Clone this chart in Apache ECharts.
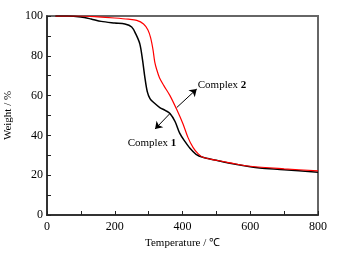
<!DOCTYPE html>
<html>
<head>
<meta charset="utf-8">
<script src="https://cdn.jsdelivr.net/npm/echarts@6/dist/echarts.min.js"></script>
<style>
    html, body { margin: 0; padding: 0; background: #fff; }
    #chart { width: 338px; height: 256px; }
</style>
</head>
<body>
<div id="chart"></div>
<script>
    // TGA curves, [temperature, weight%]
    const complex1 = [[25,100],[60,100],[100,99.5],[130,98.5],[160,97.3],[200,96.5],[230,96],[250,94.5],[262,91],[274,86],[282,78],[289,69],[296,62],[304,58.5],[315,56.5],[333,54],[350,52.5],[363,51],[378,47],[392,41],[407,37],[422,33.5],[440,30.5],[460,29],[500,27.5],[540,26],[600,24.2],[628,23.6],[700,22.8],[800,21.5]]
    const complex2 = [[25,100],[100,100],[150,99.6],[200,99],[240,98.4],[265,97.8],[285,96],[298,93],[306,89],[313,83],[318,77],[324,73],[332,69],[345,65],[363,60],[383,53],[401,46],[416,39],[431,34],[445,31],[460,29],[500,27.5],[540,26.2],[600,24.5],[700,23.2],[800,22.2]]
    const xTicks = [0, 200, 400, 600, 800]
    const yTicks = [0, 20, 40, 60, 80, 100]

    // arrows: [from, to] in data coords
    const arrow1 = [[363, 51], [319, 43.2]]
    const arrow2 = [[383, 54], [442, 63.3]]
    const label1 = [310, 36.2]
    const label2 = [445, 65.3]

    const font = 'Liberation Serif'
    const chart = echarts.init(document.getElementById('chart'))

    const arrowLine = (pts) => ({
        silent: true,
        symbol: ['none', 'arrow'],
        symbolSize: 7,
        label: { show: false },
        lineStyle: { color: '#000', width: 1, type: 'solid' },
        data: [[{ coord: pts[0] }, { coord: pts[1] }]]
    })

    const option = {
        animation: false,
        textStyle: { fontFamily: font },
        grid: {
            left: 47, right: 20, top: 16, bottom: 41,
            outerBoundsMode: 'none',
            show: true, borderColor: '#666', borderWidth: 2
        },
        xAxis: {
            type: 'value', min: 0, max: 800, interval: 200,
            name: 'Temperature / ℃', nameLocation: 'middle', nameGap: 23,
            nameTextStyle: { fontFamily: font, fontSize: 11, color: '#000' },
            axisLine: { lineStyle: { color: '#222', width: 1.5 } },
            axisTick: { inside: true, length: 4, lineStyle: { color: '#222' } },
            minorTick: { show: true, splitNumber: 2, length: 4, lineStyle: { color: '#222' } },
            axisLabel: { fontFamily: font, fontSize: 12, color: '#000', margin: 6,
                formatter: v => xTicks.includes(v) ? v : '' },
            splitLine: { show: false }
        },
        yAxis: {
            type: 'value', min: 0, max: 100, interval: 20,
            name: 'Weight / %', nameLocation: 'middle', nameGap: 30,
            nameTextStyle: { fontFamily: font, fontSize: 11, color: '#000' },
            axisLine: { show: true, lineStyle: { color: '#222', width: 1.5 } },
            axisTick: { show: true, inside: true, length: 4, lineStyle: { color: '#222' } },
            minorTick: { show: true, splitNumber: 2, length: 4, lineStyle: { color: '#222' } },
            axisLabel: { fontFamily: font, fontSize: 12, color: '#000', margin: 4,
                formatter: v => yTicks.includes(v) ? v : '' },
            splitLine: { show: false }
        },
        series: [
            {
                name: 'Complex 1', type: 'line', data: complex1,
                smooth: 0.3, showSymbol: false,
                lineStyle: { color: '#000', width: 1.5 },
                markLine: arrowLine(arrow1),
                markPoint: {
                    symbolSize: 0,
                    label: {
                        show: true, color: '#000', fontFamily: font, fontSize: 11,
                        formatter: 'Complex {b|1}',
                        rich: { b: { fontWeight: 'bold', fontFamily: font, fontSize: 11 } }
                    },
                    data: [{ coord: label1 }]
                }
            },
            {
                name: 'Complex 2', type: 'line', data: complex2,
                smooth: 0.3, showSymbol: false,
                lineStyle: { color: '#f00', width: 1.2 },
                markLine: arrowLine(arrow2),
                markPoint: {
                    symbolSize: 0,
                    label: {
                        show: true, color: '#000', fontFamily: font, fontSize: 11,
                        position: 'right', distance: 0,
                        formatter: 'Complex {b|2}',
                        rich: { b: { fontWeight: 'bold', fontFamily: font, fontSize: 11 } }
                    },
                    data: [{ coord: label2 }]
                }
            }
        ]
    }
    chart.setOption(option)
</script>
</body>
</html>
